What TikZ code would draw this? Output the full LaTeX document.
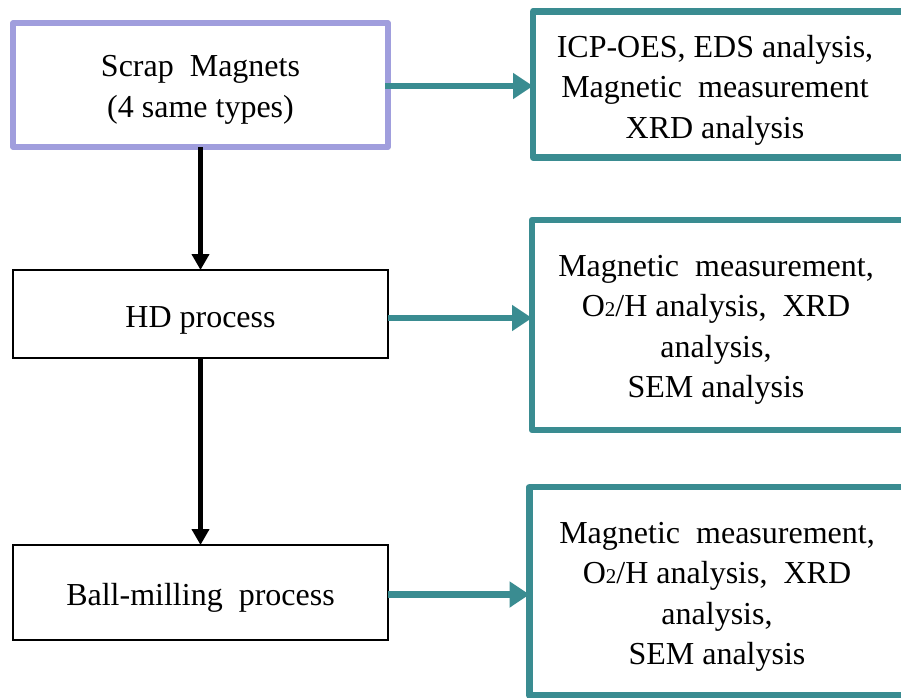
\documentclass[tikz,border=0pt]{standalone}
\usepackage{fontspec}
\setmainfont{Liberation Serif}
\usetikzlibrary{arrows.meta}
\definecolor{lavender}{RGB}{160,158,221}
\definecolor{tealline}{RGB}{58,140,145}
\newcommand{\sub}[1]{{\fontsize{21}{21}\selectfont #1}}
\begin{document}
\begin{tikzpicture}[x=1pt,y=-1pt,
  every node/.style={font=\fontsize{32}{40.5}\selectfont, inner sep=0pt, outer sep=0pt},
  stepbox/.style={draw=black, line width=1.5pt, minimum width=375pt},
  startbox/.style={draw=lavender, line width=5.5pt, line join=round, minimum width=375pt, minimum height=124pt},
  resbox/.style={draw=tealline, line width=6.5pt, line join=round},
  boxtext/.style={align=center},
  flow/.style={draw=black, line width=5.5pt, -{Triangle[length=16pt,width=17pt]}},
  tolab/.style={draw=tealline, line width=6.5pt, -{Triangle[length=20pt,width=25pt]}}
]
\useasboundingbox (0,0) rectangle (901,697);

% process steps
\node[startbox] (scrap) at (200.5,85) {};
\node[stepbox, minimum height=88pt] (hd) at (200.5,314) {};
\node[stepbox, minimum height=95pt] (ball) at (200.5,592.5) {};

\node[boxtext] (scrapt) at (200.5,90) {Scrap\ \ Magnets\\(4 same types)};
\node[boxtext] (hdt) at (200.5,320) {HD process};
\node[boxtext] (ballt) at (200.5,598) {Ball-milling\ \ process};

% characterisation boxes (running off the right edge)
\node[resbox, minimum width=387pt, minimum height=146pt] (r1) at (726.5,84.5) {};
\node[resbox, minimum width=388pt, minimum height=210pt] (r2) at (726,325) {};
\node[resbox, minimum width=390.5pt, minimum height=208.5pt] (r3) at (724.75,591.25) {};

\node[boxtext] (r1t) at (715,90) {ICP-OES, EDS analysis,\\Magnetic\ \ measurement\\XRD analysis};
\node[boxtext] (r2t) at (716,330) {Magnetic\ \ measurement,\\O\sub{2}/H analysis,\ \ XRD\\analysis,\\SEM analysis};
\node[boxtext] (r3t) at (717,597) {Magnetic\ \ measurement,\\O\sub{2}/H analysis,\ \ XRD\\analysis,\\SEM analysis};

% main flow
\draw[flow] (scrap.south) -- (hd.north);
\draw[flow] (hd.south) -- (ball.north);

% analyses
\draw[tolab] ([xshift=-3pt,yshift=-1pt]scrap.east) -- ([yshift=-1pt]scrap.east -| r1.west);
\draw[tolab] ([yshift=-4pt]hd.east) -- ([yshift=-4pt]hd.east -| r2.west);
\draw[tolab] ([yshift=-2pt]ball.east) -- ([yshift=-2pt]ball.east -| r3.west);
\end{tikzpicture}
\end{document}
